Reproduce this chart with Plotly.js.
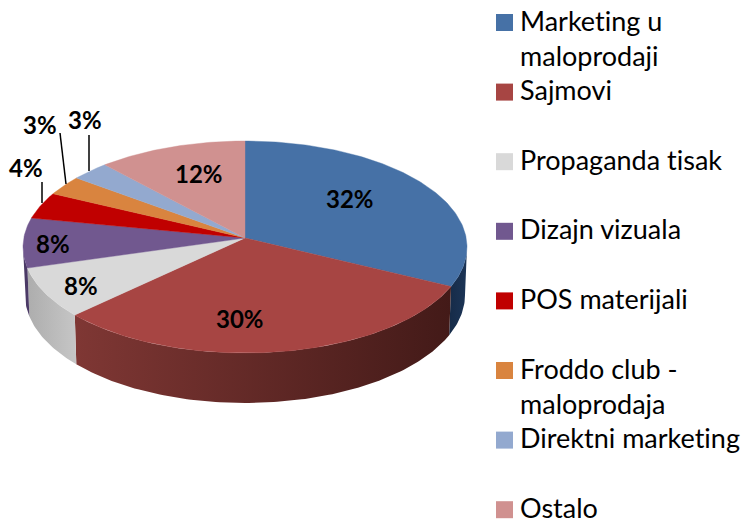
<!DOCTYPE html>
<html>
<head>
<meta charset="utf-8">
<script src="https://cdn.plot.ly/plotly-3.0.1.min.js"></script>
<style>html,body{margin:0;padding:0;background:#fff} text{font-variant-ligatures:none;font-feature-settings:"liga" 0}</style>
</head>
<body>
<div id="chart" style="width:745px;height:519px"></div>
<script>
// ---- data ----
const categories = ['Marketing u<br>maloprodaji','Sajmovi','Propaganda tisak','Dizajn vizuala','POS materijali','Froddo club -<br>maloprodaja','Direktni marketing','Ostalo'];
const values = [32,30,8,8,4,3,3,12];
const topColors = ['#4671a6','#a74543','#d9d9d9','#71588f','#c00000','#d9843f','#93a9cf','#d09190'];
const wallStops = [
  ['#1c3557','#162b48'],
  ['#7f3734','#431a18'],
  ['#c6c6c6','#adadad'],
  ['#4b3a66','#4b3a66'],
  ['#800000','#800000'],
  ['#a0602c','#a0602c'],
  ['#6a7ea0','#6a7ea0'],
  ['#9a6a69','#9a6a69']
];

// ---- projection of the tilted disc onto the pixel-mapped axes ----
const disc = {cx:245, apexY:238, topCy:247, rx:222, ry:106, botCy:295, botRx:220, botRy:108};
function foreshorten(angle){
  const q = Math.PI/2;
  if(angle>2*q && angle<3*q) return 0.425;
  if(angle>=3*q) return 0.49;
  return 0.5;
}
function rimPoint(angle){
  const k = foreshorten(angle);
  const dx = Math.sin(angle), dy = -Math.cos(angle)*k;
  const oy = disc.apexY - disc.topCy;
  const A = dx*dx/(disc.rx*disc.rx) + dy*dy/(disc.ry*disc.ry);
  const B = 2*(oy*dy/(disc.ry*disc.ry));
  const C = oy*oy/(disc.ry*disc.ry) - 1;
  const t = (-B + Math.sqrt(B*B - 4*A*C))/(2*A);
  return [disc.cx + t*dx, disc.apexY + t*dy];
}
function phiOf(p){
  return Math.atan2((p[1]-disc.topCy)/disc.ry, (p[0]-disc.cx)/disc.rx);
}

const total = values.reduce((a,b)=>a+b,0);
const traces = [];
let cum = 0;
const slices = values.map((v,i)=>{
  const a0 = cum/total*2*Math.PI; cum += v;
  const a1 = cum/total*2*Math.PI;
  const n = Math.max(4, Math.round(v*4));
  const rim = [];
  for(let j=0;j<=n;j++) rim.push(rimPoint(a0+(a1-a0)*j/n));
  return {i, rim};
});

// walls (only where the rim faces the viewer)
slices.forEach(s=>{
  const front = s.rim.map(phiOf).filter(f=>f>=0 && f<=Math.PI);
  if(front.length<1) return;
  const phis = front.slice();
  const allPhi = s.rim.map(phiOf);
  if(allPhi[0]<0 && allPhi[allPhi.length-1]>0) phis.unshift(0);
  if(allPhi.some(f=>f<0) && allPhi[0]>=0) phis.push(Math.PI);
  if(phis.length<2) return;
  const xs=[], ys=[];
  phis.forEach(f=>{xs.push(disc.cx+disc.rx*Math.cos(f)); ys.push(disc.topCy+disc.ry*Math.sin(f));});
  phis.slice().reverse().forEach(f=>{xs.push(disc.cx+disc.botRx*Math.cos(f)); ys.push(disc.botCy+disc.botRy*Math.sin(f));});
  xs.push(xs[0]); ys.push(ys[0]);
  const st = wallStops[s.i];
  traces.push({x:xs,y:ys,mode:'lines',fill:'toself',line:{width:0},hoverinfo:'skip',showlegend:false,
    fillgradient:{type:'horizontal',start:Math.min(...xs),stop:Math.max(...xs),
      colorscale:[[0,s.i===1?st[0]:st[1]],[1,s.i===1?st[1]:st[0]]]}});
});

// top faces
slices.forEach(s=>{
  const xs=[disc.cx], ys=[disc.apexY];
  s.rim.forEach(p=>{xs.push(p[0]);ys.push(p[1]);});
  xs.push(disc.cx); ys.push(disc.apexY);
  traces.push({x:xs,y:ys,mode:'lines',fill:'toself',fillcolor:topColors[s.i],
    line:{width:0.4,color:topColors[s.i]},hoverinfo:'skip',showlegend:false});
});

// leader lines
const leaders = [[[42,42],[182,203]],[[60,66],[133,184]],[[89,89],[135,171]]];
leaders.forEach(l=>traces.push({x:l[0],y:l[1],mode:'lines',line:{width:1.5,color:'#000'},hoverinfo:'skip',showlegend:false}));

// legend swatches
const legendTop = 22.5, legendStep = 69.6;
traces.push({x:categories.map(()=>504.5),y:categories.map((c,i)=>legendTop+i*legendStep),mode:'markers',
  marker:{symbol:'square',size:17,color:topColors,line:{width:0}},hoverinfo:'skip',showlegend:false});

// value labels
const labelPos = [[350,198],[240,318],[81,285],[53,243],[26,167],[40,124],[85,119],[199,173]];
const annotations = values.map((v,i)=>({x:labelPos[i][0],y:labelPos[i][1],text:v+'%',showarrow:false,xanchor:'center',yanchor:'middle',
  font:{family:'Lato, sans-serif',size:24,color:'#000',weight:700}}));

// legend text
categories.forEach((c,i)=>{
  c.split('<br>').forEach((line,j)=>annotations.push({x:518,y:legendTop-2.5+i*legendStep+j*35,text:line,showarrow:false,xanchor:'left',yanchor:'middle',
    font:{family:'Lato, sans-serif',size:27,color:'#000'}}));
});

Plotly.newPlot('chart',traces,{
  width:745,height:519,margin:{l:0,r:0,t:0,b:0},
  paper_bgcolor:'#fff',plot_bgcolor:'#fff',showlegend:false,
  xaxis:{range:[0,745],visible:false,fixedrange:true},
  yaxis:{range:[519,0],visible:false,fixedrange:true},
  annotations
},{displayModeBar:false,staticPlot:true});
</script>
</body>
</html>
